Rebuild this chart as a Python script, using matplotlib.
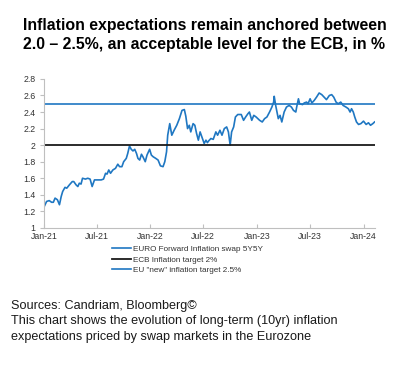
import matplotlib
matplotlib.use("Agg")
import matplotlib.pyplot as plt
import matplotlib.dates as mdates
import pandas as pd

plt.rcParams['font.family'] = ['Liberation Sans', 'DejaVu Sans']

# weekly-ish readings of the EUR 5Y5Y inflation swap
dates = [
    "2021-01-02", "2021-01-10", "2021-01-19", "2021-01-27", "2021-02-02", "2021-02-08",
    "2021-02-16", "2021-02-23", "2021-03-01", "2021-03-06", "2021-03-14", "2021-03-20",
    "2021-03-29", "2021-04-08", "2021-04-13", "2021-04-21", "2021-04-27", "2021-05-02",
    "2021-05-08", "2021-05-13", "2021-05-23", "2021-05-31", "2021-06-08", "2021-06-15",
    "2021-06-23", "2021-07-04", "2021-07-16", "2021-07-24", "2021-07-31", "2021-08-05",
    "2021-08-11", "2021-08-17", "2021-08-25", "2021-09-03", "2021-09-11", "2021-09-17",
    "2021-09-25", "2021-10-01", "2021-10-10", "2021-10-15", "2021-10-21", "2021-10-27",
    "2021-11-02", "2021-11-08", "2021-11-14", "2021-11-19", "2021-11-25", "2021-12-01",
    "2021-12-06", "2021-12-14", "2021-12-20", "2021-12-29", "2022-01-04", "2022-01-10",
    "2022-01-19", "2022-01-27", "2022-02-04", "2022-02-13", "2022-02-19", "2022-02-25",
    "2022-03-01", "2022-03-08", "2022-03-15", "2022-03-23", "2022-04-01", "2022-04-10",
    "2022-04-19", "2022-04-27", "2022-05-02", "2022-05-08", "2022-05-14", "2022-05-19",
    "2022-05-27", "2022-06-02", "2022-06-08", "2022-06-14", "2022-06-20", "2022-06-26",
    "2022-07-04", "2022-07-10", "2022-07-15", "2022-07-19", "2022-07-27", "2022-08-04",
    "2022-08-13", "2022-08-19", "2022-08-27", "2022-09-03", "2022-09-11", "2022-09-19",
    "2022-09-25", "2022-10-01", "2022-10-06", "2022-10-13", "2022-10-19", "2022-10-27",
    "2022-11-08", "2022-11-16", "2022-11-23", "2022-12-01", "2022-12-06", "2022-12-14",
    "2022-12-21", "2022-12-29", "2023-01-10", "2023-01-19", "2023-01-27", "2023-02-04",
    "2023-02-13", "2023-02-21", "2023-02-27", "2023-03-01", "2023-03-06", "2023-03-15",
    "2023-03-21", "2023-03-27", "2023-04-04", "2023-04-12", "2023-04-21", "2023-04-29",
    "2023-05-06", "2023-05-14", "2023-05-17", "2023-05-23", "2023-05-27", "2023-06-06",
    "2023-06-12", "2023-06-20", "2023-06-25", "2023-07-02", "2023-07-08", "2023-07-16",
    "2023-07-24", "2023-08-02", "2023-08-11", "2023-08-19", "2023-08-27", "2023-09-06",
    "2023-09-14", "2023-09-21", "2023-09-29", "2023-10-06", "2023-10-15", "2023-10-23",
    "2023-11-02", "2023-11-10", "2023-11-16", "2023-11-21", "2023-11-27", "2023-12-02",
    "2023-12-08", "2023-12-15", "2023-12-23", "2024-01-01", "2024-01-10", "2024-01-18",
    "2024-01-25", "2024-02-02", "2024-02-08",
]
swap_5y5y = [
    1.26, 1.32, 1.33, 1.31, 1.31, 1.36,
    1.34, 1.28, 1.38, 1.44, 1.49, 1.48,
    1.52, 1.56, 1.56, 1.52, 1.50, 1.54,
    1.53, 1.60, 1.59, 1.60, 1.59, 1.50,
    1.58, 1.58, 1.58, 1.59, 1.66, 1.65,
    1.70, 1.66, 1.70, 1.72, 1.77, 1.74,
    1.74, 1.80, 1.84, 1.90, 1.99, 1.95,
    1.93, 1.95, 1.90, 1.84, 1.82, 1.89,
    1.86, 1.80, 1.88, 1.95, 1.88, 1.86,
    1.84, 1.82, 1.75, 1.74, 1.80, 1.92,
    2.12, 2.26, 2.12, 2.18, 2.24, 2.32,
    2.42, 2.43, 2.35, 2.20, 2.24, 2.16,
    2.26, 2.24, 2.14, 2.06, 2.16, 2.10,
    2.02, 2.06, 2.03, 2.05, 2.08, 2.07,
    2.16, 2.12, 2.18, 2.12, 2.20, 2.22,
    2.16, 2.00, 2.16, 2.22, 2.34, 2.37,
    2.37, 2.30, 2.34, 2.38, 2.40, 2.30,
    2.36, 2.34, 2.30, 2.28, 2.32, 2.34,
    2.40, 2.46, 2.52, 2.59, 2.48, 2.32,
    2.36, 2.28, 2.40, 2.46, 2.48, 2.46,
    2.42, 2.40, 2.46, 2.56, 2.50, 2.49,
    2.51, 2.52, 2.50, 2.56, 2.51, 2.54,
    2.58, 2.63, 2.61, 2.58, 2.55, 2.60,
    2.61, 2.58, 2.52, 2.50, 2.52, 2.48,
    2.46, 2.44, 2.40, 2.44, 2.40, 2.34,
    2.28, 2.25, 2.26, 2.29, 2.25, 2.27,
    2.24, 2.26, 2.28,
]
ecb_target = 2.0
eu_new_target = 2.5

labels = ["EURO Forward Inflation swap 5Y5Y", "ECB Inflation target 2%",
          'EU "new" inflation target 2.5%']
yticks = [1, 1.2, 1.4, 1.6, 1.8, 2, 2.2, 2.4, 2.6, 2.8]

blue = '#1f77c2'
grey = '#bfbfbf'

d = pd.to_datetime(dates)
x0 = pd.Timestamp("2021-01-01")
x1 = pd.Timestamp("2024-02-09")

fig = plt.figure(figsize=(4.17, 3.85), dpi=100)
ax = fig.add_axes([0.1055, 0.408, 0.7935, 0.387])

ax.plot(d, swap_5y5y, color=blue, lw=1.2, label=labels[0])
ax.plot([x0, x1], [ecb_target, ecb_target], color='#1a1a1a', lw=1.3, label=labels[1])
ax.plot([x0, x1], [eu_new_target, eu_new_target], color=blue, lw=1.2, label=labels[2])

ax.set_xlim(x0, x1)
ax.set_ylim(1, 2.8)
ax.set_yticks(yticks)
ax.set_yticklabels(['%g' % t for t in yticks])
ax.xaxis.set_major_locator(mdates.MonthLocator(bymonth=[1, 7]))
ax.xaxis.set_major_formatter(mdates.DateFormatter('%b-%y'))

for s in ['top', 'right']:
    ax.spines[s].set_visible(False)
for s in ['left', 'bottom']:
    ax.spines[s].set_color(grey)
    ax.spines[s].set_linewidth(0.8)
ax.tick_params(axis='y', direction='out', length=3, color=grey, labelsize=6.3,
               labelcolor='#333333', pad=3)
ax.tick_params(axis='x', direction='in', length=3, color=grey, labelsize=6.3,
               labelcolor='#333333', pad=3)

fig.legend(loc='upper left', bbox_to_anchor=(0.268, 0.362), frameon=False,
           fontsize=5.9, handlelength=2.3, handletextpad=0.3, labelspacing=0.3,
           borderpad=0, borderaxespad=0, labelcolor='#333333')

fig.text(0.055, 0.952, "Inflation expectations remain anchored between\n"
         "2.0 \u2013 2.5%, an acceptable level for the ECB, in %",
         fontsize=11.4, fontweight='bold', va='top', ha='left', linespacing=1.3)

fig.text(0.026, 0.222, "Sources: Candriam, Bloomberg\u00a9\n"
         "This chart shows the evolution of long-term (10yr) inflation\n"
         "expectations priced by swap markets in the Eurozone",
         fontsize=9.1, va='top', ha='left', linespacing=1.42, color='#1a1a1a')

fig.savefig('out.png', dpi=100)
